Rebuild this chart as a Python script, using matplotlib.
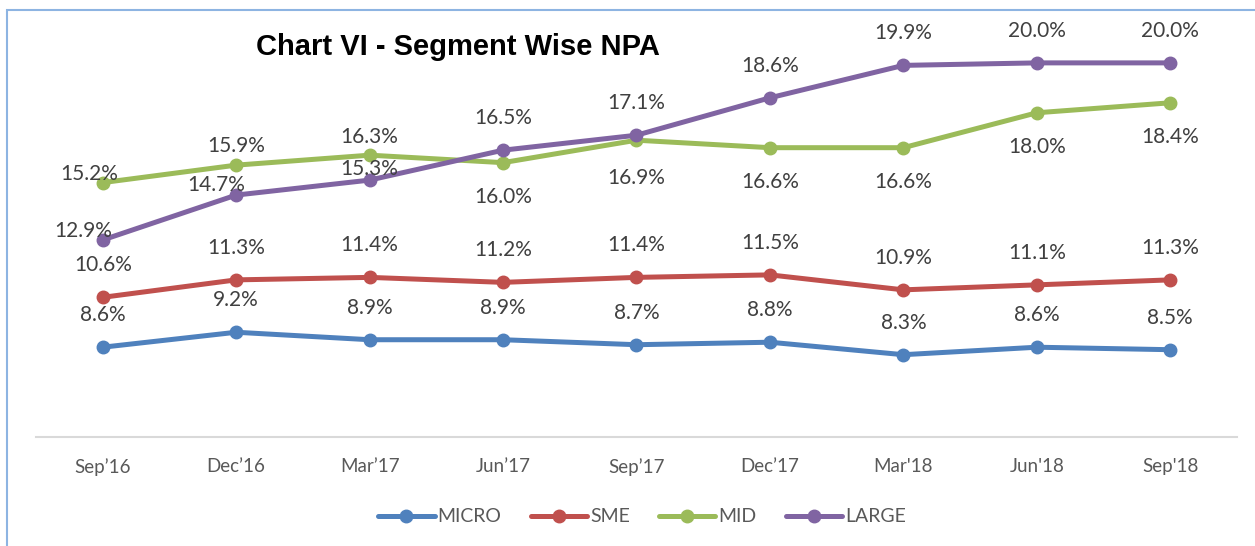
import matplotlib.pyplot as plt
from matplotlib.patches import Rectangle

# Dados do grafico
quarters = ["Sep’16", "Dec’16", "Mar’17", "Jun’17", "Sep’17", "Dec’17", "Mar'18", "Jun'18", "Sep'18"]
micro = [8.6, 9.2, 8.9, 8.9, 8.7, 8.8, 8.3, 8.6, 8.5]
sme = [10.6, 11.3, 11.4, 11.2, 11.4, 11.5, 10.9, 11.1, 11.3]
mid = [15.2, 15.9, 16.3, 16.0, 16.9, 16.6, 16.6, 18.0, 18.4]
large = [12.9, 14.7, 15.3, 16.5, 17.1, 18.6, 19.9, 20.0, 20.0]

# deslocamento dos rotulos (pixels)
up = (0, 32)
down = (0, -34)
micro_off = [up] * 9
sme_off = [up] * 9
mid_off = [(-14, 9), (0, 19), (0, 18), down, (0, -38), down, down, down, down]
large_off = [(-20, 9), (-20, 10), (0, 11), up, up, up, up, up, up]

series = [
    ("MICRO", micro, "#4F81BD", micro_off),
    ("SME", sme, "#C0504D", sme_off),
    ("MID", mid, "#9BBB59", mid_off),
    ("LARGE", large, "#8064A2", large_off),
]

plt.rcParams['font.family'] = ['Lato', 'DejaVu Sans']

fig = plt.figure(figsize=(12.55, 5.46), dpi=100)
ax = fig.add_axes([36 / 1255, 1 - 437 / 546, (1237 - 36) / 1255, 424 / 546])

x = list(range(len(quarters)))
for name, vals, cor, offs in series:
    ax.plot(x, vals, color=cor, lw=3.6, marker='o', markersize=9,
            solid_capstyle='round', label=name)
    for xi, v, off in zip(x, vals, offs):
        ax.annotate(f"{v:.1f}%", (xi, v), xytext=off, textcoords='offset pixels',
                    ha='center', va='center', fontsize=15, color='#404040')

ax.set_xlim(-0.5, 8.5)
ax.set_ylim(5, 22)
ax.set_xticks(x)
ax.set_xticklabels(quarters, fontsize=13.5, color='#595959')
ax.tick_params(axis='x', length=0, pad=15)
ax.set_yticks([])
for s in ['top', 'right', 'left']:
    ax.spines[s].set_visible(False)
ax.spines['bottom'].set_color('#D9D9D9')
ax.spines['bottom'].set_linewidth(1.5)

fig.text(458 / 1255, 1 - 47 / 546, "Chart VI - Segment Wise NPA", family='Liberation Sans',
         fontsize=21, fontweight='bold', ha='center', va='center')

fig.legend(loc='center', bbox_to_anchor=(642 / 1255, 1 - 517 / 546), ncol=4, frameon=False,
           fontsize=14, handlelength=2.9, columnspacing=1.5, handletextpad=0.15,
           labelcolor='#595959')

# borda do grafico
fig.patches.append(Rectangle((7 / 1255, -0.1), 1.2, 1 - 10 / 546 + 0.1, transform=fig.transFigure,
                             fill=False, edgecolor='#8DB4E2', lw=1.5))

plt.savefig("out.png", dpi=100)
